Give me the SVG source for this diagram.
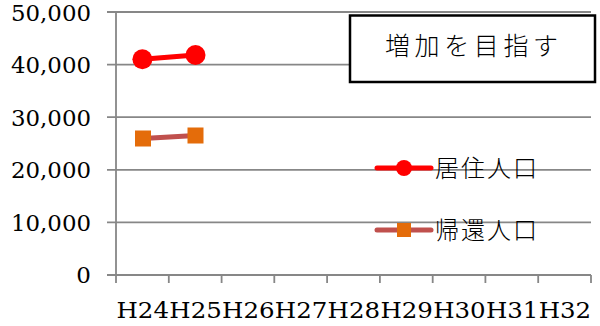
<svg xmlns="http://www.w3.org/2000/svg" width="600" height="326" viewBox="0 0 600 326">
<style>
.grid{stroke:#878787;stroke-width:1.8;fill:none}
.num{font-family:"DejaVu Serif","Liberation Serif",serif;font-size:23px;fill:#000}
.jp{font-family:"Noto Sans CJK JP",sans-serif;font-weight:300;fill:#000}
.s1{stroke:#FF0000;stroke-width:5;stroke-linecap:round;fill:none}
.s2{stroke:#C0504D;stroke-width:5;stroke-linecap:round;fill:none}
.m1{fill:#FF0000}
.m2{fill:#E46C0A}
</style>
<rect width="600" height="326" fill="#fff"/>
<g id="axes">
<path class="grid" d="M107 12H591M107 64.6H591M107 117.2H591M107 169.8H591M107 222.4H591M107 275H591"/>
<path class="grid" d="M116 12V283M168.8 275V283M221.6 275V283M274.3 275V283M327.1 275V283M379.9 275V283M432.7 275V283M485.4 275V283M538.2 275V283M591 275V283"/>
</g>
<g id="yaxis-labels" class="num" text-anchor="end">
<text x="91" y="20.5" textLength="80" lengthAdjust="spacingAndGlyphs">50,000</text>
<text x="91" y="73" textLength="80" lengthAdjust="spacingAndGlyphs">40,000</text>
<text x="91" y="125.5" textLength="80" lengthAdjust="spacingAndGlyphs">30,000</text>
<text x="91" y="178" textLength="80" lengthAdjust="spacingAndGlyphs">20,000</text>
<text x="91" y="230.5" textLength="80" lengthAdjust="spacingAndGlyphs">10,000</text>
<text x="91" y="283">0</text>
</g>
<g id="xaxis-labels" class="num">
<text x="116.5" y="318" textLength="52.5" lengthAdjust="spacingAndGlyphs">H24</text>
<text x="169.3" y="318" textLength="52.5" lengthAdjust="spacingAndGlyphs">H25</text>
<text x="222.1" y="318" textLength="52.5" lengthAdjust="spacingAndGlyphs">H26</text>
<text x="274.8" y="318" textLength="52.5" lengthAdjust="spacingAndGlyphs">H27</text>
<text x="327.6" y="318" textLength="52.5" lengthAdjust="spacingAndGlyphs">H28</text>
<text x="380.4" y="318" textLength="52.5" lengthAdjust="spacingAndGlyphs">H29</text>
<text x="433.2" y="318" textLength="52.5" lengthAdjust="spacingAndGlyphs">H30</text>
<text x="485.9" y="318" textLength="52.5" lengthAdjust="spacingAndGlyphs">H31</text>
<text x="538.7" y="318" textLength="52.5" lengthAdjust="spacingAndGlyphs">H32</text>
</g>
<g id="series-resident">
<line class="s1" x1="142.4" y1="59.3" x2="195.5" y2="55"/>
<circle class="m1" cx="142.4" cy="59.3" r="10"/>
<circle class="m1" cx="195.5" cy="55" r="10"/>
</g>
<g id="series-return">
<line class="s2" x1="143" y1="138.5" x2="195.5" y2="135.5"/>
<rect class="m2" x="135" y="130.5" width="16" height="16"/>
<rect class="m2" x="187.5" y="127.5" width="16" height="16"/>
</g>
<g id="title-box">
<rect x="350" y="15.5" width="245" height="66.5" fill="#fff" stroke="#000" stroke-width="2.5"/>
<text class="jp" x="385" y="55" font-size="25" textLength="173" lengthAdjust="spacing">増加を目指す</text>
</g>
<g id="legend">
<line class="s1" x1="377" y1="168" x2="431" y2="168"/>
<circle class="m1" cx="404" cy="168" r="8"/>
<text class="jp" x="435" y="177" font-size="24" textLength="102" lengthAdjust="spacing">居住人口</text>
<line class="s2" x1="377" y1="230" x2="431" y2="230"/>
<rect class="m2" x="397" y="223" width="14" height="14"/>
<text class="jp" x="435" y="239" font-size="24" textLength="102" lengthAdjust="spacing">帰還人口</text>
</g>
</svg>
